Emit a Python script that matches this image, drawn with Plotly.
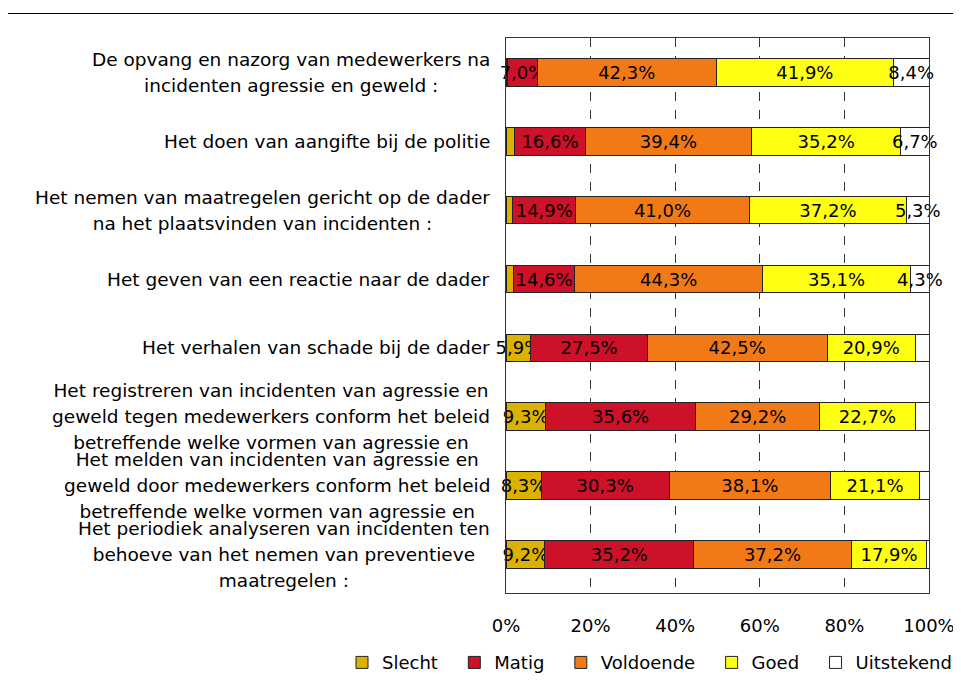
import plotly.graph_objects as go

# Labels for each item (one list of text lines per bar)
label_lines = [
    ["De opvang en nazorg van medewerkers na", "incidenten agressie en geweld :"],
    ["Het doen van aangifte bij de politie"],
    ["Het nemen van maatregelen gericht op de dader", "na het plaatsvinden van incidenten :"],
    ["Het geven van een reactie naar de dader"],
    ["Het verhalen van schade bij de dader"],
    ["Het registreren van incidenten van agressie en",
     "geweld tegen medewerkers conform het beleid",
     "betreffende welke vormen van agressie en"],
    ["Het melden van incidenten van agressie en",
     "geweld door medewerkers conform het beleid",
     "betreffende welke vormen van agressie en"],
    ["Het periodiek analyseren van incidenten ten",
     "behoeve van het nemen van preventieve",
     "maatregelen :"],
]
categories = [" ".join(l) for l in label_lines]

series_names = ["Slecht", "Matig", "Voldoende", "Goed", "Uitstekend"]
slecht = [0.4, 2.1, 1.6, 1.7, 5.9, 9.3, 8.3, 9.2]
matig = [7.0, 16.6, 14.9, 14.6, 27.5, 35.6, 30.3, 35.2]
voldoende = [42.3, 39.4, 41.0, 44.3, 42.5, 29.2, 38.1, 37.2]
goed = [41.9, 35.2, 37.2, 35.1, 20.9, 22.7, 21.1, 17.9]
uitstekend = [8.4, 6.7, 5.3, 4.3, 3.2, 3.2, 2.2, 0.5]

# which value labels are printed in the original
show_slecht = [False, False, False, False, True, True, True, True]
show_uitstekend = [True, True, True, True, False, False, False, False]

tick_vals = [0, 20, 40, 60, 80, 100]
tick_labels = ["0%", "20%", "40%", "60%", "80%", "100%"]

colors = ["#dcb200", "#cc1128", "#f27a16", "#ffff11", "#ffffff"]


def fmt(v):
    return f"{v:.1f}%".replace(".", ",")


values = [slecht, matig, voldoende, goed, uitstekend]
shows = [show_slecht, [True] * 8, [True] * 8, [True] * 8, show_uitstekend]

fig = go.Figure()
for name, vals, show, col in zip(series_names, values, shows, colors):
    fig.add_trace(go.Bar(
        y=categories,
        x=vals,
        name=name + "\u00a0\u00a0",  # a bit of extra room between legend entries
        orientation="h",
        marker=dict(color=col, line=dict(color="#222222", width=1)),
        text=[fmt(v) if s else "" for v, s in zip(vals, show)],
        textposition="inside",
        insidetextanchor="middle",
        textangle=0,
        constraintext="none",
        textfont=dict(size=18, color="black"),
        cliponaxis=False,
    ))

# category labels, centred lines with the wider line spacing of the original
for cat, lines in zip(categories, label_lines):
    fig.add_annotation(
        x=0, xref="paper", xshift=-14, xanchor="right",
        y=cat, yref="y", yanchor="middle",
        text="<br>".join(f"<span style='font-size:18.5px'>{l}</span>" for l in lines),
        align="center", showarrow=False,
        font=dict(size=20, color="black"),
    )

# thin rule along the top of the image
fig.add_shape(type="line", xref="paper", yref="paper",
              x0=-1.2, x1=1.1, y0=1.0441, y1=1.0441,
              line=dict(color="black", width=1))

fig.update_layout(
    width=961, height=687,
    barmode="stack",
    bargap=0.6,
    plot_bgcolor="white",
    paper_bgcolor="white",
    font=dict(family="DejaVu Sans", size=18, color="black"),
    margin=dict(l=498, r=40, t=30, b=102),
    legend=dict(orientation="h", x=-0.381, xanchor="left", y=-0.1256, yanchor="middle",
                font=dict(size=18), traceorder="normal"),
    xaxis=dict(range=[0, 100.001], tickvals=tick_vals, ticktext=tick_labels,
               showgrid=True, gridcolor="#333333", griddash="dash", gridwidth=1,
               zeroline=False, showline=True, mirror=True, linecolor="#333333",
               linewidth=1, ticks="", ticklabelstandoff=16),
    yaxis=dict(autorange="reversed", showticklabels=False, showgrid=False,
               showline=True, mirror=True, linecolor="#333333", linewidth=1,
               ticks=""),
)

fig.write_html("out.html")
